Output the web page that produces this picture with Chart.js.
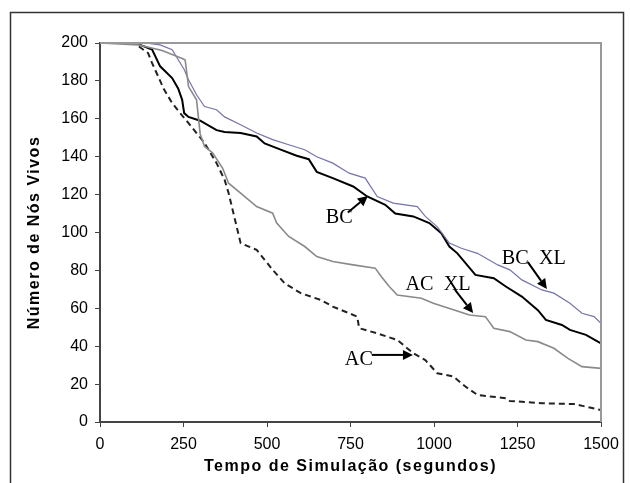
<!DOCTYPE html>
<html>
<head>
<meta charset="utf-8">
<script src="https://cdn.jsdelivr.net/npm/chart.js@4/dist/chart.umd.min.js"></script>
<style>
  html, body { margin: 0; padding: 0; background: #fff; }
  #wrap { width: 630px; height: 483px; }
</style>
</head>
<body>
<div id="wrap"><canvas id="myChart" width="630" height="483"></canvas></div>
<script>
// tempo (s) e número de nós vivos
var bcT  = [0, 108, 120, 156, 180, 216, 234, 246, 252, 265, 300, 349, 373, 421, 469, 493, 541, 589, 625, 649, 697, 758, 800, 854, 884, 938, 986, 1022, 1046, 1070, 1124, 1179, 1215, 1263, 1311, 1335, 1383, 1407, 1455, 1500];
var bcY  = [200, 200, 199, 196.5, 187.7, 181.5, 176, 170, 163, 161, 159, 154, 153, 152.5, 150.7, 147, 143.7, 140.5, 138.7, 132, 128.7, 124.3, 119, 114.6, 110, 108.5, 105, 99.6, 92.6, 89, 77.6, 75.9, 71.5, 66.2, 59, 53.9, 51.2, 48.6, 46, 41.5];

var bcxlT = [0, 135, 180, 216, 252, 265, 289, 313, 349, 373, 421, 469, 517, 565, 613, 649, 697, 746, 794, 830, 878, 950, 974, 1010, 1046, 1082, 1130, 1191, 1227, 1263, 1323, 1359, 1407, 1443, 1479, 1500];
var bcxlY = [200, 200, 199, 196.5, 186, 180.6, 172.7, 166.5, 164.8, 161, 156.9, 152.5, 149, 146.3, 143.7, 140, 136.6, 131.3, 128.7, 119, 115.5, 113.7, 108.5, 103, 94.4, 91.7, 89, 82.9, 80.3, 75, 69.7, 68, 62.7, 57.4, 55.6, 52.1];

var acxlT = [0, 115, 186, 248, 255, 265, 289, 300, 313, 337, 367, 385, 421, 469, 517, 529, 565, 613, 649, 697, 758, 824, 842, 866, 890, 962, 998, 1058, 1106, 1154, 1179, 1227, 1275, 1311, 1359, 1401, 1443, 1500];
var acxlY = [200, 199, 196, 191.7, 191, 177, 170, 152, 145.4, 142, 134, 126, 120.8, 113.7, 110.2, 105, 97.9, 92.6, 87.3, 84.7, 82.9, 81.2, 76.8, 71.5, 67, 65.3, 62.7, 59.2, 56.5, 55.6, 49.5, 47.7, 43.3, 42.4, 38.9, 33.6, 29.2, 28.3];

var acT  = [0, 102, 144, 156, 174, 192, 216, 240, 265, 289, 313, 349, 373, 385, 397, 421, 469, 493, 517, 553, 601, 661, 697, 746, 770, 776, 830, 890, 938, 974, 1010, 1058, 1094, 1130, 1215, 1227, 1323, 1419, 1500];
var acY  = [200, 200, 194.7, 189.4, 182.4, 175.4, 168.3, 163, 157.7, 152.5, 147.2, 136.6, 127.8, 120.8, 112, 94.4, 90.8, 85.6, 80.3, 73.2, 68, 64.4, 60.9, 57.4, 55.6, 49.5, 46.8, 43.3, 36.3, 32.7, 25.7, 24, 18.7, 14.3, 12.5, 11.1, 9.9, 9.5, 6.3];

var xTicks = [0, 250, 500, 750, 1000, 1250, 1500];
var yTicks = [0, 20, 40, 60, 80, 100, 120, 140, 160, 180, 200];
var xTitle = 'Tempo de Simulação (segundos)';
var yTitle = 'Número de Nós Vivos';

// rótulos com seta: texto (centro) e seta (início -> ponta), em unidades dos eixos
var labelText = ['BC', 'BC  XL', 'AC  XL', 'AC'];
var labelPos  = [[716, 108.7], [1299, 87], [1012, 73.4], [775, 33.8]];
var arrowFrom = [[742, 110.5], [1281, 84.4], [1063, 69.7], [814, 35.4]];
var arrowTo   = [[802, 119.3], [1338, 70.2], [1117, 57.5], [937, 35.4]];

function pts(t, y) {
  return t.map(function (v, i) { return { x: v, y: y[i] }; });
}

const extras = {
  id: 'extras',
  afterDraw(chart) {
    const ctx = chart.ctx;
    const a = chart.chartArea;
    const xs = chart.scales.x, ys = chart.scales.y;
    ctx.save();
    // moldura externa
    ctx.strokeStyle = '#333';
    ctx.lineWidth = 1.5;
    ctx.strokeRect(10.5, 12.5, 613, 500);
    // borda superior e direita da área do gráfico
    ctx.strokeStyle = '#999';
    ctx.lineWidth = 2;
    ctx.beginPath();
    ctx.moveTo(a.left, a.top);
    ctx.lineTo(a.right, a.top);
    ctx.lineTo(a.right, a.bottom);
    ctx.stroke();

    // títulos dos eixos, com espaçamento entre letras
    ctx.fillStyle = '#000';
    ctx.font = 'bold 16px "Liberation Sans", Arial, sans-serif';
    ctx.letterSpacing = '1.5px';
    ctx.textAlign = 'center';
    ctx.textBaseline = 'middle';
    ctx.fillText(xTitle, (a.left + a.right) / 2, 467);
    ctx.save();
    ctx.translate(35, (a.top + a.bottom) / 2);
    ctx.rotate(-Math.PI / 2);
    ctx.fillText(yTitle, 0, 0);
    ctx.restore();
    ctx.letterSpacing = '0px';

    // setas
    ctx.strokeStyle = '#000';
    ctx.fillStyle = '#000';
    ctx.lineWidth = 2;
    for (let i = 0; i < arrowFrom.length; i++) {
      const x1 = xs.getPixelForValue(arrowFrom[i][0]), y1 = ys.getPixelForValue(arrowFrom[i][1]);
      const x2 = xs.getPixelForValue(arrowTo[i][0]), y2 = ys.getPixelForValue(arrowTo[i][1]);
      const ang = Math.atan2(y2 - y1, x2 - x1);
      const hl = 10, hw = 5;
      const bx = x2 - hl * Math.cos(ang), by = y2 - hl * Math.sin(ang);
      ctx.beginPath();
      ctx.moveTo(x1, y1);
      ctx.lineTo(bx, by);
      ctx.stroke();
      ctx.beginPath();
      ctx.moveTo(x2, y2);
      ctx.lineTo(bx + hw * Math.sin(ang), by - hw * Math.cos(ang));
      ctx.lineTo(bx - hw * Math.sin(ang), by + hw * Math.cos(ang));
      ctx.closePath();
      ctx.fill();
    }

    // textos
    ctx.font = '22px "Liberation Serif", "Times New Roman", serif';
    for (let i = 0; i < labelText.length; i++) {
      const px = xs.getPixelForValue(labelPos[i][0]), py = ys.getPixelForValue(labelPos[i][1]);
      ctx.save();
      ctx.translate(px, py);
      ctx.scale(0.92, 1);
      ctx.fillText(labelText[i], 0, 1);
      ctx.restore();
    }
    ctx.restore();
  }
};

const context = document.getElementById('myChart').getContext('2d');
const myChart = new Chart(context, {
  type: 'line',
  data: {
    datasets: [
      {
        label: 'AC XL',
        data: pts(acxlT, acxlY),
        borderColor: '#8a8a8a',
        borderWidth: 1.6,
        pointRadius: 0,
        tension: 0,
      },
      {
        label: 'AC',
        data: pts(acT, acY),
        borderColor: '#222',
        borderWidth: 2,
        borderDash: [6, 4],
        pointRadius: 0,
        tension: 0,
      },
      {
        label: 'BC XL',
        data: pts(bcxlT, bcxlY),
        borderColor: '#7474aa',
        borderWidth: 1.2,
        pointRadius: 0,
        tension: 0,
      },
      {
        label: 'BC',
        data: pts(bcT, bcY),
        borderColor: '#000',
        borderWidth: 2,
        pointRadius: 0,
        tension: 0,
      },
    ],
  },
  options: {
    responsive: false,
    maintainAspectRatio: false,
    animation: false,
    layout: { padding: { left: 10, right: 29, top: 43, bottom: 0 } },
    plugins: { legend: { display: false }, tooltip: { enabled: false } },
    scales: {
      x: {
        type: 'linear',
        min: 0,
        max: 1500,
        afterFit: function (s) { s.height = 61; },
        afterBuildTicks: function (s) { s.ticks = xTicks.map(function (v) { return { value: v }; }); },
        grid: { drawOnChartArea: false, tickLength: 5, color: '#444' },
        border: { color: '#444', width: 2 },
        ticks: {
          color: '#000',
          padding: 8,
          font: { family: 'Liberation Sans, Arial', size: 16 },
          maxRotation: 0,
          callback: function (v) { return String(v); },
        },
      },
      y: {
        min: 0,
        max: 200,
        afterFit: function (s) { s.width = 90; },
        afterBuildTicks: function (s) { s.ticks = yTicks.map(function (v) { return { value: v }; }); },
        grid: { drawOnChartArea: false, tickLength: 5, color: '#444' },
        border: { color: '#444', width: 2 },
        ticks: { color: '#000', padding: 7, font: { family: 'Liberation Sans, Arial', size: 16 } },
      },
    },
  },
  plugins: [extras],
});
</script>
</body>
</html>
